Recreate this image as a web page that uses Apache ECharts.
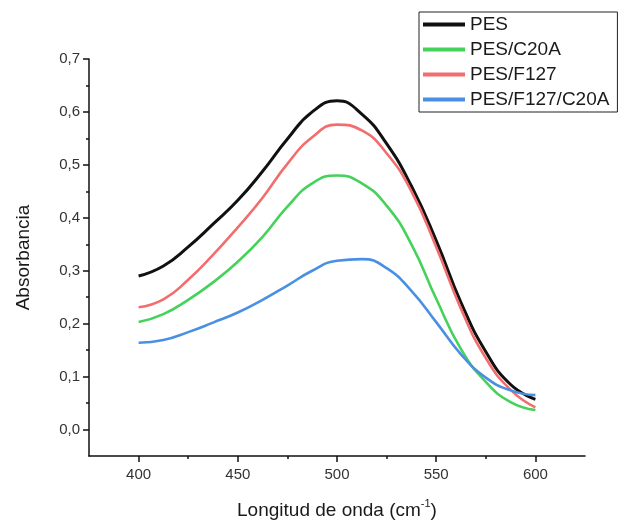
<!DOCTYPE html>
<html>
<head>
<meta charset="utf-8">
<script src="https://cdn.jsdelivr.net/npm/echarts@6/dist/echarts.min.js"></script>
<style>
html,body{margin:0;padding:0;background:#fff;}
#c{width:619px;height:525px;}
</style>
</head>
<body>
<div id="c"></div>
<script>
const xVals = [400, 412.5, 425, 437.5, 450, 462.5, 475, 487.5, 500, 512.5, 525, 537.5, 550, 562.5, 575, 587.5, 600];
const seriesNames = ['PES', 'PES/C20A', 'PES/F127', 'PES/F127/C20A'];
const pes         = [0.290, 0.309, 0.345, 0.388, 0.433, 0.488, 0.549, 0.600, 0.621, 0.596, 0.540, 0.460, 0.357, 0.240, 0.147, 0.085, 0.057];
const pesC20A     = [0.203, 0.218, 0.245, 0.278, 0.317, 0.364, 0.421, 0.465, 0.480, 0.465, 0.423, 0.350, 0.247, 0.152, 0.090, 0.052, 0.037];
const pesF127     = [0.231, 0.246, 0.283, 0.330, 0.382, 0.438, 0.502, 0.552, 0.576, 0.565, 0.522, 0.450, 0.345, 0.228, 0.135, 0.075, 0.042];
const pesF127C20A = [0.164, 0.169, 0.184, 0.202, 0.221, 0.245, 0.272, 0.300, 0.319, 0.322, 0.305, 0.262, 0.203, 0.142, 0.098, 0.074, 0.065];
const xMajor = [400, 450, 500, 550, 600];
const xMinor = [425, 475, 525, 575];
const yMajor = [0, 0.1, 0.2, 0.3, 0.4, 0.5, 0.6, 0.7];
const yMinor = [0.05, 0.15, 0.25, 0.35, 0.45, 0.55, 0.65];

const colors = ['#111111', '#45d25a', '#f26e6e', '#4a90e2'];
const allY = [pes, pesC20A, pesF127, pesF127C20A];

const font = 'Liberation Sans, Arial, sans-serif';
const chart = echarts.init(document.getElementById('c'), null, {renderer: 'canvas'});
const fmt = v => v.toFixed(1).replace('.', ',');

const option = {
  animation: false,
  backgroundColor: '#fff',
  grid: {left: 89, right: 34, top: 59, bottom: 63, containLabel: false},
  legend: {
    left: 419, top: 12,
    orient: 'vertical',
    icon: 'rect',
    itemWidth: 42, itemHeight: 4,
    itemGap: 6,
    padding: [3, 8, 3, 4],
    borderColor: '#222', borderWidth: 1,
    textStyle: {fontFamily: font, fontSize: 19, color: '#1a1a1a', lineHeight: 19},
    data: seriesNames
  },
  xAxis: [{
    type: 'value', min: 375, max: 625,
    axisLine: {onZero: false, lineStyle: {color: '#111', width: 1.5}},
    axisTick: {customValues: xMajor, length: 6, lineStyle: {color: '#111', width: 1.5}},
    axisLabel: {customValues: xMajor, margin: 11, fontFamily: font, fontSize: 15, color: '#333'},
    splitLine: {show: false},
    name: '{a|Longitud de onda (cm}{s|-1}{a|)}',
    nameLocation: 'middle', nameGap: 42,
    nameTextStyle: {fontFamily: font, color: '#1a1a1a', rich: {
      a: {fontFamily: font, fontSize: 19, color: '#1a1a1a', lineHeight: 22, verticalAlign: 'bottom'},
      s: {fontFamily: font, fontSize: 11, color: '#1a1a1a', lineHeight: 22, verticalAlign: 'top'}
    }}
  }, {
    type: 'value', min: 375, max: 625, gridIndex: 0, position: 'bottom',
    axisLine: {show: false, onZero: false},
    axisTick: {customValues: xMinor, length: 3, lineStyle: {color: '#111', width: 1.5}},
    axisLabel: {show: false},
    splitLine: {show: false}
  }],
  yAxis: [{
    type: 'value', min: -0.05, max: 0.7,
    axisLine: {show: true, onZero: false, lineStyle: {color: '#111', width: 1.5}},
    axisTick: {show: true, customValues: yMajor, length: 6, lineStyle: {color: '#111', width: 1.5}},
    axisLabel: {customValues: yMajor, margin: 9, formatter: fmt, fontFamily: font, fontSize: 15, color: '#333'},
    splitLine: {show: false},
    name: 'Absorbancia', nameLocation: 'middle', nameGap: 56,
    nameTextStyle: {fontFamily: font, fontSize: 19, color: '#1a1a1a'}
  }, {
    type: 'value', min: -0.05, max: 0.7, position: 'left',
    axisLine: {show: false, onZero: false},
    axisTick: {show: true, customValues: yMinor, length: 3, lineStyle: {color: '#111', width: 1.5}},
    axisLabel: {show: false},
    splitLine: {show: false}
  }],
  series: seriesNames.map((n, i) => ({
    name: n, type: 'line', smooth: 0.5, showSymbol: false, symbol: 'none',
    xAxisIndex: 0, yAxisIndex: 0,
    color: colors[i],
    lineStyle: {color: colors[i], width: i === 0 ? 3 : 2.6},
    data: xVals.map((x, j) => [x, allY[i][j]])
  }))
};
chart.setOption(option);
</script>
</body>
</html>
